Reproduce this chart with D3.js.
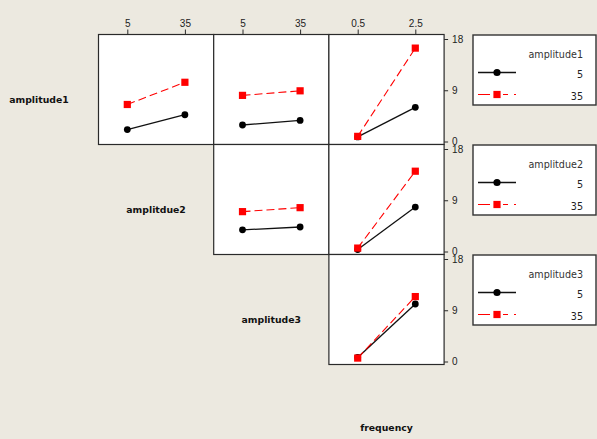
<!DOCTYPE html>
<html>
<head>
<meta charset="utf-8">
<script src="https://cdn.jsdelivr.net/npm/d3@7"></script>
<style>
  body { margin: 0; background: #ece9e0; }
  svg { display: block; }
</style>
</head>
<body>
<svg id="chart" width="597" height="439"></svg>
<script>
// Factor names: rows are the trace factors, columns the x-axis factors
const rowFactors = ["amplitude1", "amplitdue2", "amplitude3"];
const colFactors = ["amplitdue2", "amplitude3", "frequency"];
const ampTicks = ["5", "35"];
const freqTicks = ["0.5", "2.5"];
const traceLevels = ["5", "35"];
const yTicks = [0, 9, 18];

// Cell means, trace level 5 (black) and 35 (red)
const a1ByA2_5 = [2.1, 4.7];
const a1ByA2_35 = [6.5, 10.4];
const a1ByA3_5 = [2.9, 3.7];
const a1ByA3_35 = [8.1, 8.9];
const a1ByFreq_5 = [0.8, 6.0];
const a1ByFreq_35 = [0.9, 16.4];
const a2ByA3_5 = [3.8, 4.3];
const a2ByA3_35 = [7.0, 7.7];
const a2ByFreq_5 = [0.35, 7.8];
const a2ByFreq_35 = [0.6, 14.1];
const a3ByFreq_5 = [0.7, 10.1];
const a3ByFreq_35 = [0.6, 11.4];

const panels = [
  { row: 0, col: 0, ticks: ampTicks, lo: a1ByA2_5, hi: a1ByA2_35 },
  { row: 0, col: 1, ticks: ampTicks, lo: a1ByA3_5, hi: a1ByA3_35 },
  { row: 0, col: 2, ticks: freqTicks, lo: a1ByFreq_5, hi: a1ByFreq_35 },
  { row: 1, col: 1, ticks: ampTicks, lo: a2ByA3_5, hi: a2ByA3_35 },
  { row: 1, col: 2, ticks: freqTicks, lo: a2ByFreq_5, hi: a2ByFreq_35 },
  { row: 2, col: 2, ticks: freqTicks, lo: a3ByFreq_5, hi: a3ByFreq_35 }
];

const svg = d3.select("#chart");
const gridLeft = 98.5, gridTop = 34.5, cellW = 115.2, cellH = 110;
const colTicks = [ampTicks, ampTicks, freqTicks];

const xScaleFor = (col) => d3.scalePoint()
  .domain(colTicks[col])
  .range([gridLeft + col * cellW, gridLeft + (col + 1) * cellW])
  .padding(0.5);

const yScaleFor = (row) => d3.scaleLinear()
  .domain([0, 18])
  .range([gridTop + (row + 1) * cellH - 3, gridTop + row * cellH + 4.5]);

const tickFont = "'Liberation Sans', Arial, sans-serif";
const boldFont = "'DejaVu Sans', sans-serif";

// Panel frames
svg.append("g").selectAll("rect")
  .data(panels)
  .join("rect")
  .attr("x", d => gridLeft + d.col * cellW)
  .attr("y", d => gridTop + d.row * cellH)
  .attr("width", cellW)
  .attr("height", cellH)
  .attr("fill", "#fff")
  .attr("stroke", "#2a2a2a")
  .attr("stroke-width", 1.2);

// Top x axes, one per column
colFactors.forEach((f, col) => {
  const x = xScaleFor(col);
  svg.append("g")
    .attr("transform", `translate(0,${gridTop})`)
    .call(d3.axisTop(x).tickSize(5).tickPadding(3))
    .call(g => g.select(".domain").remove())
    .call(g => g.selectAll("line").attr("stroke", "#2a2a2a"))
    .call(g => g.selectAll("text")
      .attr("font-family", tickFont).attr("font-size", 10).attr("fill", "#222"));
});

// Right y axes, one per row
rowFactors.forEach((f, row) => {
  const y = yScaleFor(row);
  svg.append("g")
    .attr("transform", `translate(${gridLeft + 3 * cellW},0)`)
    .call(d3.axisRight(y).tickValues(yTicks).tickSize(4).tickPadding(4))
    .call(g => g.select(".domain").remove())
    .call(g => g.selectAll("line").attr("stroke", "#2a2a2a"))
    .call(g => g.selectAll("text")
      .attr("font-family", tickFont).attr("font-size", 10).attr("fill", "#222"));
});

// Interaction lines and markers
panels.forEach(p => {
  const x = xScaleFor(p.col);
  const y = yScaleFor(p.row);
  const g = svg.append("g");
  const pts = (vals) => vals.map((v, i) => [x(p.ticks[i]), y(v)]);
  const line = d3.line();

  g.append("path")
    .attr("d", line(pts(p.lo)))
    .attr("fill", "none").attr("stroke", "#111").attr("stroke-width", 1.3);
  g.append("path")
    .attr("d", line(pts(p.hi)))
    .attr("fill", "none").attr("stroke", "#ff0000").attr("stroke-width", 1.1)
    .attr("stroke-dasharray", "8,4");

  g.selectAll("circle")
    .data(pts(p.lo))
    .join("circle")
    .attr("cx", d => d[0]).attr("cy", d => d[1]).attr("r", 3.4)
    .attr("fill", "#000");
  g.selectAll("rect")
    .data(pts(p.hi))
    .join("rect")
    .attr("x", d => d[0] - 3.6).attr("y", d => d[1] - 3.6)
    .attr("width", 7.2).attr("height", 7.2)
    .attr("fill", "#ff0000");
});

// Factor names along the diagonal
const diagLabels = [rowFactors[0], rowFactors[1], rowFactors[2], colFactors[2]];
const diagX = [39, gridLeft + 0.5 * cellW, gridLeft + 1.5 * cellW, gridLeft + 2.5 * cellW];
svg.append("g").selectAll("text")
  .data(diagLabels)
  .join("text")
  .attr("x", (d, i) => diagX[i])
  .attr("y", (d, i) => gridTop + (i + 0.5) * cellH + 13.5 - (i === 3 ? 2 : 0))
  .attr("text-anchor", "middle")
  .attr("font-family", boldFont)
  .attr("font-weight", "bold")
  .attr("font-size", 9.3)
  .attr("fill", "#111")
  .text(d => d);

// Legends, one per trace factor
rowFactors.forEach((f, row) => {
  const top = gridTop + row * cellH + 0.5;
  const g = svg.append("g").attr("transform", `translate(473,${top})`);
  g.append("rect")
    .attr("width", 123).attr("height", 70)
    .attr("fill", "#fff").attr("stroke", "#333").attr("stroke-width", 1.4);
  g.append("text")
    .attr("x", 110).attr("y", 22.5)
    .attr("text-anchor", "end")
    .attr("font-family", boldFont).attr("font-size", 9.6).attr("fill", "#333")
    .text(f);
  traceLevels.forEach((lv, i) => {
    const cy = 37.5 + i * 22;
    if (i === 0) {
      g.append("line").attr("x1", 5).attr("x2", 43).attr("y1", cy).attr("y2", cy)
        .attr("stroke", "#111").attr("stroke-width", 1.3);
      g.append("circle").attr("cx", 24).attr("cy", cy).attr("r", 3.6).attr("fill", "#000");
    } else {
      g.append("line").attr("x1", 5).attr("x2", 43).attr("y1", cy).attr("y2", cy)
        .attr("stroke", "#ff0000").attr("stroke-width", 1.1)
        .attr("stroke-dasharray", "12,13,5,6,2,20");
      g.append("rect").attr("x", 20.4).attr("y", cy - 3.6)
        .attr("width", 7.2).attr("height", 7.2).attr("fill", "#ff0000");
    }
    g.append("text")
      .attr("x", 110).attr("y", cy + 5)
      .attr("text-anchor", "end")
      .attr("font-family", boldFont).attr("font-size", 9.6).attr("fill", "#222")
      .text(lv);
  });
});
</script>
</body>
</html>
